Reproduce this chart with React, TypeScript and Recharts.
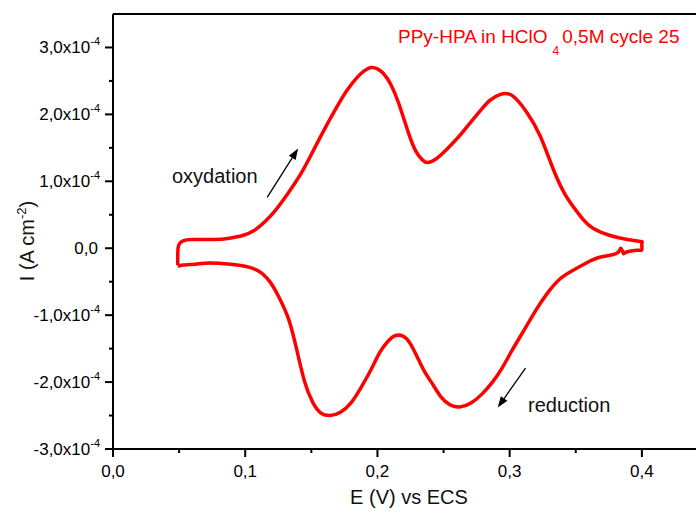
import { LineChart, Line, XAxis, YAxis, ReferenceLine } from 'recharts';

// cyclic voltammogram, cycle 25 (E in V vs ECS, I in 10^-4 A cm^-2)
const potential = [
  0.049, 0.049, 0.05, 0.053, 0.06, 0.077, 0.088, 0.098, 0.107, 0.115,
  0.123, 0.132, 0.142, 0.151, 0.16, 0.169, 0.177, 0.185, 0.19, 0.195, 0.2,
  0.205, 0.21, 0.216, 0.223, 0.229, 0.234, 0.238, 0.244, 0.25, 0.256,
  0.263, 0.27, 0.278, 0.285, 0.293, 0.302, 0.313, 0.323, 0.333, 0.342, 0.35, 0.356,
  0.363, 0.376, 0.389, 0.399,
  0.4, 0.4, 0.397, 0.388, 0.386, 0.384, 0.381, 0.369, 0.359, 0.348,
  0.338, 0.329, 0.32, 0.311, 0.302, 0.294, 0.287, 0.279, 0.271, 0.263,
  0.255, 0.248, 0.242, 0.235, 0.229, 0.224, 0.219, 0.213, 0.208, 0.202,
  0.195, 0.187, 0.18, 0.172, 0.164, 0.157, 0.151, 0.145, 0.139, 0.133,
  0.126, 0.119, 0.11, 0.1, 0.089, 0.073, 0.062, 0.053, 0.049,
];
const current = [
  -0.25, -0.06, 0.06, 0.11, 0.13, 0.13, 0.15, 0.19, 0.27, 0.4,
  0.57, 0.81, 1.11, 1.44, 1.78, 2.1, 2.36, 2.56, 2.65, 2.7, 2.68,
  2.6, 2.45, 2.17, 1.75, 1.45, 1.32, 1.28, 1.33, 1.43, 1.55,
  1.7, 1.87, 2.06, 2.21, 2.3, 2.28, 2.03, 1.68, 1.18, 0.8, 0.57, 0.42,
  0.3, 0.19, 0.13, 0.1,
  0.075, -0.015, -0.03, -0.06, -0.075, 0.0, -0.075, -0.13, -0.21, -0.33,
  -0.46, -0.66, -0.92, -1.22, -1.52, -1.8, -2.0, -2.18, -2.31, -2.37,
  -2.34, -2.22, -2.04, -1.82, -1.58, -1.4, -1.31, -1.31, -1.39, -1.55,
  -1.82, -2.1, -2.31, -2.45, -2.5, -2.46, -2.3, -2.0, -1.52, -1.07,
  -0.75, -0.51, -0.34, -0.27, -0.24, -0.22, -0.24, -0.25, -0.27,
];

const xTicks = [0, 0.05, 0.1, 0.15, 0.2, 0.25, 0.3, 0.35, 0.4, 0.45];
const yTicks = [-3, -2.5, -2, -1.5, -1, -0.5, 0, 0.5, 1, 1.5, 2, 2.5, 3];

// arrow annotations [E start, I start, E end, I end]
const oxArrow = [0.1166, 0.76, 0.14, 1.49];
const redArrow = [0.312, -1.79, 0.291, -2.38];

const data = potential.map((E, i) => ({ E, I: current[i] }));

const FONT = 'Arial, "Liberation Sans", sans-serif';

const isMajor = (v: number, step: number) => Math.abs(Math.round(v / step) * step - v) < 1e-6;

const XTick = ({ x, y, payload }: any) => {
  const v = payload.value;
  const major = isMajor(v, 0.1);
  return (
    <g>
      <line x1={x} x2={x} y1={y} y2={y + (major ? 8 : 4)} stroke="#000" strokeWidth={2} />
      {major && (
        <text x={x} y={y + 28} textAnchor="middle" fontSize={17} fill="#000" fontFamily={FONT}>
          {v.toFixed(1).replace('.', ',')}
        </text>
      )}
    </g>
  );
};

const YTick = ({ x, y, payload }: any) => {
  const v = payload.value;
  const major = isMajor(v, 1);
  return (
    <g>
      <line x1={x - (major ? 8 : 4)} x2={x} y1={y} y2={y} stroke="#000" strokeWidth={2} />
      {major && v === 0 && (
        <text x={x - 15} y={y} dy="0.35em" textAnchor="end" fontSize={17} fill="#000" fontFamily={FONT}>
          0,0
        </text>
      )}
      {major && v !== 0 && (
        <text x={x - 13} y={y} dy="0.35em" textAnchor="end" fontSize={17} fill="#000" fontFamily={FONT}>
          {`${v.toFixed(1).replace('.', ',')}x10`}
          <tspan dy={-8} fontSize={11}>-4</tspan>
        </text>
      )}
    </g>
  );
};

const Arrow = (props: any) => {
  const { x1, y1, x2, y2 } = props;
  const ang = Math.atan2(y2 - y1, x2 - x1);
  const len = 11;
  const w = 4;
  const bx = x2 - len * Math.cos(ang);
  const by = y2 - len * Math.sin(ang);
  const px = -Math.sin(ang) * w;
  const py = Math.cos(ang) * w;
  return (
    <g>
      <line x1={x1} y1={y1} x2={bx} y2={by} stroke="#000" strokeWidth={1.3} />
      <polygon points={`${x2},${y2} ${bx + px},${by + py} ${bx - px},${by - py}`} fill="#000" />
    </g>
  );
};

export default function App() {
  return (
    <div style={{ position: 'absolute', left: 0, top: 0, width: 696, height: 515, overflow: 'hidden', background: '#fff' }}>
      <LineChart width={720} height={515} data={data} margin={{ top: 14, right: 12, left: 0, bottom: 0 }}>
        <XAxis
          dataKey="E"
          type="number"
          domain={[0, 0.45]}
          ticks={xTicks}
          interval={0}
          height={66}
          tickSize={0}
          tickMargin={0}
          tickLine={false}
          tick={<XTick />}
          axisLine={{ stroke: '#000', strokeWidth: 2 }}
        />
        <YAxis
          type="number"
          domain={[-3, 3.5]}
          ticks={yTicks}
          interval={0}
          width={113}
          tickSize={0}
          tickMargin={0}
          tickLine={false}
          tick={<YTick />}
          axisLine={{ stroke: '#000', strokeWidth: 2 }}
        />
        <ReferenceLine y={3.5} stroke="#000" strokeWidth={2} />
        <ReferenceLine x={0.45} stroke="#000" strokeWidth={2} />
        <ReferenceLine
          segment={[{ x: oxArrow[0], y: oxArrow[1] }, { x: oxArrow[2], y: oxArrow[3] }]}
          shape={<Arrow />}
        />
        <ReferenceLine
          segment={[{ x: redArrow[0], y: redArrow[1] }, { x: redArrow[2], y: redArrow[3] }]}
          shape={<Arrow />}
        />
        <Line
          dataKey="I"
          type="natural"
          stroke="#ff0000"
          strokeWidth={3.5}
          strokeLinejoin="round"
          dot={false}
          isAnimationActive={false}
        />
      </LineChart>
      <svg width={696} height={515} style={{ position: 'absolute', left: 0, top: 0, pointerEvents: 'none' }}>
        <text x={398} y={43} fontSize={19} fill="#ff0000" fontFamily={FONT}>
          PPy-HPA in HClO
          <tspan dx={5} dy={12} fontSize={12}>4</tspan>
          <tspan dx={3} dy={-12}>0,5M cycle 25</tspan>
        </text>
        <text x={172} y={183} fontSize={20} fill="#111" fontFamily={FONT}>oxydation</text>
        <text x={528} y={412} fontSize={20} fill="#111" fontFamily={FONT}>reduction</text>
        <text x={409} y={504} textAnchor="middle" fontSize={20} fill="#111" fontFamily={FONT}>E (V) vs ECS</text>
        <text x={34} y={241} transform="rotate(-90, 34, 241)" textAnchor="middle" fontSize={20} fill="#111" fontFamily={FONT}>
          I (A cm<tspan dy={-8} fontSize={13}>-2</tspan>
          <tspan dy={8}>)</tspan>
        </text>
      </svg>
    </div>
  );
}
